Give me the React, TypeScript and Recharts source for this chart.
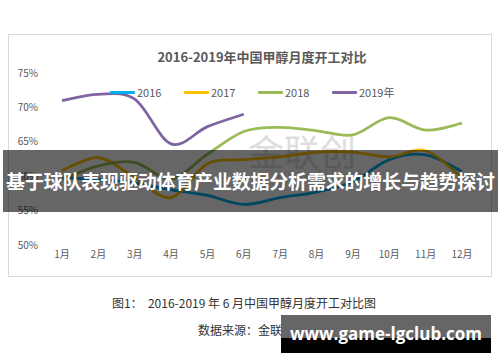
import React from "react";
import { LineChart, Line, XAxis, YAxis } from "recharts";

const MONTHS = ["1月", "2月", "3月", "4月", "5月", "6月", "7月", "8月", "9月", "10月", "11月", "12月"];
const SERIES_NAMES = ["2016", "2017", "2018", "2019年"];
const SERIES_COLORS = ["#00B0F0", "#FFC000", "#9BBB59", "#8064A2"];

// monthly operating rate, %
const RATE_2016 = [59.8, 59.5, 59.0, 58.0, 57.2, 55.9, 56.9, 57.7, 59.2, 62.4, 63.1, 60.7];
const RATE_2017 = [60.8, 62.7, 59.8, 56.9, 61.8, 62.4, 62.8, 63.5, 63.5, 62.8, 63.7, 59.8];
const RATE_2018 = [59.5, 61.5, 62.0, 59.6, 63.2, 66.5, 67.1, 66.6, 66.0, 68.5, 66.7, 67.7];
const RATE_2019 = [71.0, 71.9, 71.2, 64.7, 67.2, 69.0];

const Y_TICKS = [50, 55, 60, 65, 70, 75];
const BOUNDARY_TICKS = [0, 1, 2, 3, 4, 5, 6, 7, 8, 9, 10, 11, 12];

const CJK = '"Noto Sans CJK SC", "Noto Sans", sans-serif';

// Excel-like smoothed line (catmull-rom through every point)
const smoothCurve = (context: any) => {
  let pts: number[][] = [];
  return {
    areaStart() {},
    areaEnd() {},
    lineStart() {
      pts = [];
    },
    point(x: number, y: number) {
      pts.push([+x, +y]);
    },
    lineEnd() {
      if (!pts.length) return;
      context.moveTo(pts[0][0], pts[0][1]);
      const t = 1 / 6;
      for (let i = 0; i < pts.length - 1; i++) {
        const p0 = pts[i - 1] || pts[i];
        const p1 = pts[i];
        const p2 = pts[i + 1];
        const p3 = pts[i + 2] || p2;
        context.bezierCurveTo(
          p1[0] + (p2[0] - p0[0]) * t,
          p1[1] + (p2[1] - p0[1]) * t,
          p2[0] - (p3[0] - p1[0]) * t,
          p2[1] - (p3[1] - p1[1]) * t,
          p2[0],
          p2[1]
        );
      }
    },
  };
};

const seriesData = [RATE_2016, RATE_2017, RATE_2018, RATE_2019];

const chartData = MONTHS.map((month, i) => {
  const row: Record<string, string | number | undefined> = { month, idx: i + 0.5 };
  SERIES_NAMES.forEach((name, s) => {
    row[name] = seriesData[s][i];
  });
  return row;
});

const App: React.FC = () => {
  return (
    <div
      style={{
        position: "absolute",
        left: 0,
        top: 0,
        width: 500,
        height: 362,
        background: "#fff",
        overflow: "hidden",
        fontFamily: CJK,
      }}
    >
      {/* chart frame */}
      <div
        style={{
          position: "absolute",
          left: 8,
          top: 34,
          width: 482,
          height: 241,
          border: "1px solid #d9d9d9",
        }}
      />
      <div
        style={{
          position: "absolute",
          left: 8,
          width: 484,
          top: 47,
          textAlign: "center",
          fontSize: 13,
          fontWeight: 700,
          color: "#595959",
          lineHeight: "20px",
          paddingLeft: 24,
          boxSizing: "border-box",
        }}
      >
        2016-2019年中国甲醇月度开工对比
      </div>

      {/* watermark */}
      <div
        style={{
          position: "absolute",
          left: 248,
          top: 128,
          fontSize: 36,
          color: "#dedede",
          lineHeight: "44px",
          letterSpacing: 0,
        }}
      >
        金联创
      </div>
      <div
        style={{
          position: "absolute",
          left: 276,
          top: 164,
          fontSize: 13,
          color: "#dedede",
          letterSpacing: 1,
        }}
      >
        www.315i.com
      </div>

      <div style={{ position: "absolute", left: 0, top: 0 }}>
        <LineChart
          width={500}
          height={290}
          data={chartData}
          margin={{ top: 73, right: 20, bottom: 15, left: 14 }}
        >
          <XAxis
            xAxisId="grid"
            type="number"
            dataKey="idx"
            domain={[0, 12]}
            ticks={BOUNDARY_TICKS}
            tick={false}
            tickSize={4}
            height={0}
            axisLine={{ stroke: "#bfbfbf" }}
            tickLine={{ stroke: "#bfbfbf" }}
          />
          <XAxis
            xAxisId="cat"
            dataKey="month"
            interval={0}
            padding={{ left: 18, right: 18 }}
            height={30}
            axisLine={false}
            tickLine={false}
            tickSize={4}
            tick={{ fontSize: 10, fill: "#595959", fontFamily: CJK }}
          />
          <YAxis
            domain={[50, 75]}
            ticks={Y_TICKS}
            width={30}
            axisLine={false}
            tickLine={false}
            tickSize={4}
            tickFormatter={(v) => `${v}%`}
            tick={{ fontSize: 10, fill: "#595959", fontFamily: CJK }}
          />
          {SERIES_NAMES.map((name, s) => (
            <Line
              key={name}
              xAxisId="cat"
              dataKey={name}
              type={smoothCurve as any}
              stroke={SERIES_COLORS[s]}
              strokeWidth={2.8}
              dot={false}
              activeDot={false}
              isAnimationActive={false}
            />
          ))}
        </LineChart>
      </div>

      {/* legend */}
      {SERIES_NAMES.map((name, s) => (
        <div
          key={name}
          style={{
            position: "absolute",
            left: 110 + s * 74,
            top: 85,
            height: 14,
            display: "flex",
            alignItems: "center",
            fontSize: 11,
            color: "#595959",
          }}
        >
          <span
            style={{
              display: "inline-block",
              width: 25,
              height: 3,
              background: SERIES_COLORS[s],
              marginRight: 2,
              borderRadius: 1,
            }}
          />
          {name}
        </div>
      ))}

      {/* banner overlay */}
      <div
        style={{
          position: "absolute",
          left: 3,
          top: 150,
          width: 495,
          height: 62,
          background: "rgba(0,0,0,0.6)",
          color: "#fff",
          fontSize: 19,
          fontWeight: 700,
          lineHeight: "62px",
          textAlign: "center",
          whiteSpace: "nowrap",
          letterSpacing: -0.2,
        }}
      >
        基于球队表现驱动体育产业数据分析需求的增长与趋势探讨
      </div>

      {/* caption */}
      <div
        style={{
          position: "absolute",
          left: 0,
          width: 500,
          top: 295,
          textAlign: "center",
          fontSize: 12,
          color: "#333",
          lineHeight: "16px",
          paddingRight: 12,
          boxSizing: "border-box",
          whiteSpace: "pre",
        }}
      >
        {"图1：  2016-2019 年 6 月中国甲醇月度开工对比图"}
      </div>
      <div
        style={{
          position: "absolute",
          left: 198,
          top: 322,
          fontSize: 12,
          color: "#333",
          lineHeight: "16px",
        }}
      >
        数据来源：金联创
      </div>

      {/* site badge */}
      <div
        style={{
          position: "absolute",
          left: 281,
          top: 315,
          width: 210,
          height: 38,
          background: "linear-gradient(#666 0%, #666 60%, #000 60%, #000 100%)",
          color: "#fff",
          fontFamily: '"Open Sans", "DejaVu Sans", sans-serif',
          fontWeight: 700,
          fontSize: 17,
          lineHeight: "38px",
          textAlign: "center",
          whiteSpace: "nowrap",
        }}
      >
        www.game-lgclub.com
      </div>
    </div>
  );
};

export default App;
